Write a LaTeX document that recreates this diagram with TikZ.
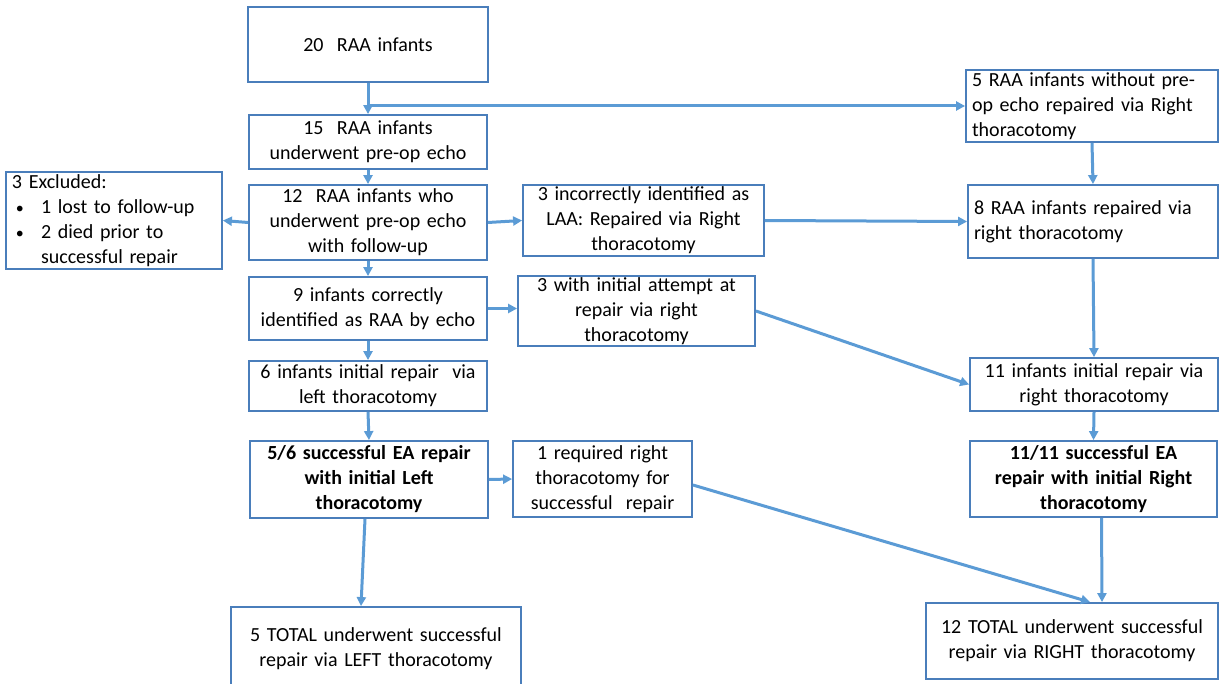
\documentclass[tikz,border=0pt]{standalone}
\usepackage{fontspec}
\setmainfont{Carlito}
\usetikzlibrary{arrows.meta,calc}
\definecolor{bordc}{HTML}{4A7EBB}
\definecolor{arrc}{HTML}{5B9BD5}
\tikzset{
  box/.style n args={3}{draw=bordc, line width=1.8pt, inner ysep=0pt, inner xsep=6pt,
     text width=#1pt-12pt, minimum height=#2pt, align=#3,
     font=\fontsize{20}{25}\selectfont, anchor=center},
  arr/.style={draw=arrc, line width=3pt, -{Triangle[length=9pt,width=9pt]}}
}
\newcommand{\bul}{\hspace*{4pt}\makebox[25pt][l]{\fontsize{16}{25}\selectfont\textbullet}}
\begin{document}
\begin{tikzpicture}[x=1pt,y=-1pt]
\useasboundingbox (0,0) rectangle (1222,684);
\node[box={240}{75}{center}] (A) at (368,44.5) {20\ \ RAA infants};
\node[box={238}{54}{center}] (B) at (368,142) {15\ \ RAA infants\\underwent pre-op echo};
\node[box={238}{75}{center}] (C) at (368,222.5) {12\ \ RAA infants who\\underwent pre-op echo\\with follow-up};
\node[box={216}{97}{left}] (X) at (114,220.5) {3 Excluded:\\\bul 1 lost to follow-up\\\bul 2 died prior to\\\hspace*{29pt}successful repair};
\node[box={241}{71}{center}] (D) at (643.5,220.5) {3 incorrectly identified as\\LAA: Repaired via Right\\thoracotomy};
\node[box={252}{72}{left}] (R1) at (1092,106) {5 RAA infants without pre-\\op echo repaired via Right\\thoracotomy};
\node[box={250}{73}{left}] (R2) at (1093,221.5) {8 RAA infants repaired via\\right thoracotomy};
\node[box={238}{63}{center}] (E) at (368,308.5) {9 infants correctly\\identified as RAA by echo};
\node[box={237}{70}{center}] (F) at (636.5,311) {3 with initial attempt at\\repair via right\\thoracotomy};
\node[box={238}{50}{center}] (G) at (368,386) {6 infants initial repair\ \ via\\left thoracotomy};
\node[box={248}{53}{center}] (R3) at (1094,384.5) {11 infants initial repair via\\right thoracotomy};
\node[box={238}{77}{center}, font=\fontsize{20}{25}\selectfont\bfseries] (H) at (369,479.5) {5/6 successful EA repair\\with initial Left\\thoracotomy};
\node[box={179}{76}{center}] (I) at (602.5,479) {1 required right\\thoracotomy for\\successful\ \ repair};
\node[box={247}{76}{center}, font=\fontsize{20}{25}\selectfont\bfseries] (R4) at (1093.5,479) {11/11 successful EA\\repair with initial Right\\thoracotomy};
\node[box={290}{83}{center}] (J) at (376,648.5) {5 TOTAL underwent successful\\repair via LEFT thoracotomy};
\node[box={292}{76}{center}] (K) at (1072,641) {12 TOTAL underwent successful\\repair via RIGHT thoracotomy};
\coordinate (split) at (A.south |- R1.west);
\draw[arr] (A.south) -- (B.north);
\draw[arr] (split) -- (R1.west);
\draw[arr] (B.south) -- (C.north);
\draw[arr] (C.west) -- (X.east);
\draw[arr] (C.east) -- (D.west);
\draw[arr] (D.east) -- (R2.west);
\draw[arr] (R1.south) -- (R2.north);
\draw[arr] (C.south) -- (E.north);
\draw[arr] (E.east) -- (F.west |- E.east);
\draw[arr] (E.south) -- (G.north);
\draw[arr] (R2.south) -- (R3.north);
\draw[arr] (F.east) -- (R3.west);
\draw[arr] (G.south) -- (H.north);
\draw[arr] (H.east) -- (I.west);
\draw[arr] (R3.south) -- (R4.north);
\draw[arr] ([xshift=-4pt]H.south) -- ([xshift=-15pt]J.north);
\draw[arr] ([yshift=-6pt]I.east) -- ([xshift=18pt]K.north);
\draw[arr] ([xshift=8pt]R4.south) -- ([xshift=30pt]K.north);
\end{tikzpicture}
\end{document}
